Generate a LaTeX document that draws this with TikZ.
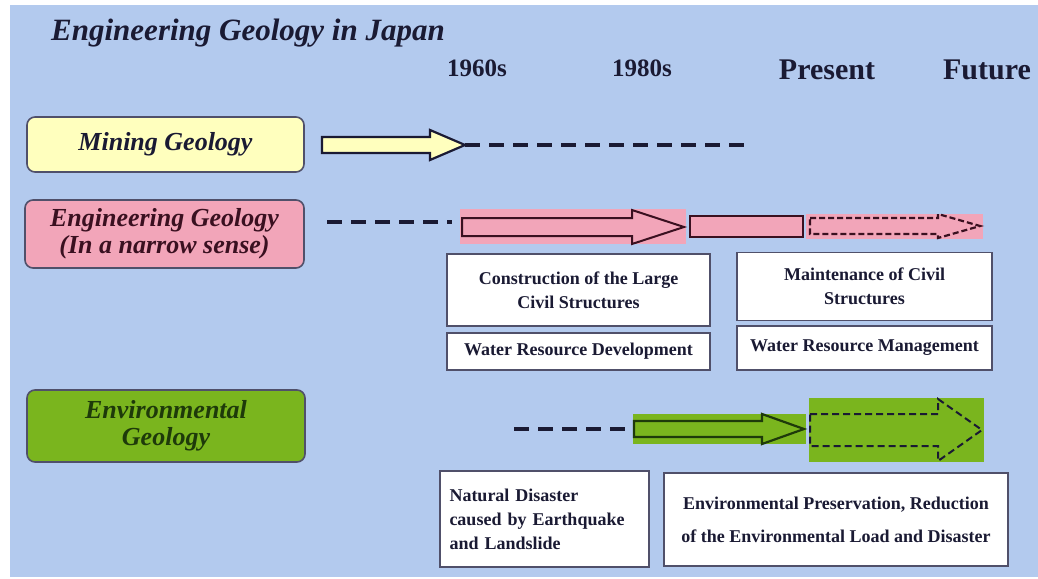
\documentclass[tikz,border=0pt]{standalone}
\usepackage{fontspec}
\setmainfont{Liberation Serif}
\definecolor{col_b3caee}{RGB}{179,202,238}
\definecolor{col_ffffbe}{RGB}{255,255,190}
\definecolor{col_f2a5b9}{RGB}{242,165,185}
\definecolor{col_7ab51e}{RGB}{122,181,30}
\definecolor{col_1a1a33}{RGB}{26,26,51}
\definecolor{col_50506a}{RGB}{80,80,106}
\definecolor{col_1e3a0a}{RGB}{30,58,10}
\definecolor{col_3a1020}{RGB}{58,16,32}
\newcommand{\tikzblockarrow}[8]{%
\filldraw[fill=#1,#2] (#3,#6-#7) -- (#4,#6-#7) -- (#4,#6-#8) -- (#5,#6) -- (#4,#6+#8) -- (#4,#6+#7) -- (#3,#6+#7) -- cycle;
}
\tikzset{
  catbox/.style={draw=col_50506a, line width=1.6pt, rounded corners=8pt, align=center,
    font=\fontsize{26}{27}\selectfont\bfseries\itshape, text=col_1a1a33},
  notebox/.style={draw=col_50506a, line width=1.2pt, fill=white, align=center,
    font=\fontsize{18}{24}\selectfont\bfseries, text=col_1a1a33},
  yearlabel/.style={font=\fontsize{25}{26}\selectfont\bfseries, text=col_1a1a33},
  dashline/.style={col_1a1a33, line width=3.5pt, dash pattern=on 15pt off 9pt}
}

\begin{document}
\begin{tikzpicture}[x=1pt,y=-1pt]
\useasboundingbox (0,0) rectangle (1038,578);
\fill[white] (0,0) rectangle (1038,578);
\fill[col_b3caee] (10,5) rectangle (1038,577);     %% slide background
\node (title) [font=\fontsize{31}{33}\selectfont\bfseries\itshape, text=col_1a1a33] at (248,33) {Engineering Geology in Japan};
\node (y1960) [yearlabel] at (477,68) {1960s};
\node (y1980) [yearlabel] at (642,68) {1980s};
\node (present) [yearlabel, font=\fontsize{30}{31}\selectfont\bfseries] at (827,70) {Present};
\node (future) [yearlabel, font=\fontsize{30}{31}\selectfont\bfseries] at (987,70) {Future};
%% categories
\node (mining) [catbox, fill=col_ffffbe, minimum width=277pt, minimum height=55pt] at (165.5,144.5) {Mining Geology};
\node (engineering) [catbox, fill=col_f2a5b9, text=col_3a1020, minimum width=279pt, minimum height=68pt] at (164.5,234) {Engineering Geology\\(In a narrow sense)};
\node (environmental) [catbox, fill=col_7ab51e, text=col_1e3a0a, minimum width=278pt, minimum height=72pt] at (166,426) {Environmental\\Geology};
%% mining row
\tikzblockarrow{col_ffffbe}{draw=col_1a1a33, line width=2.2pt}{322}{430}{465}{145}{8}{15}
\coordinate (mining-tip) at (465,145);
\coordinate (mining-end) at (750,145);
\draw[dashline] (mining-tip) -- (mining-end);
%% engineering row
\coordinate (eng-start) at (327,222);
\coordinate (eng-end) at (452,222);
\draw[dashline] (eng-start) -- (eng-end);
\fill[col_f2a5b9] (460,209) rectangle (686,244);
\tikzblockarrow{col_f2a5b9}{draw=col_3a1020, line width=2pt}{462}{632}{684}{227}{9}{17}
\filldraw[fill=col_f2a5b9, draw=col_3a1020, line width=2pt] (690,216) rectangle (803,237);
\fill[col_f2a5b9] (806,214) rectangle (983,239);
\tikzblockarrow{col_f2a5b9}{draw=col_3a1020, line width=2.2pt, dash pattern=on 6pt off 3pt}{810}{938}{980}{226}{8}{12}
%% environmental row
\coordinate (env-start) at (514,429);
\coordinate (env-end) at (632,429);
\draw[dashline] (env-start) -- (env-end);
\fill[col_7ab51e] (633,414) rectangle (806,444);
\tikzblockarrow{col_7ab51e}{draw=col_1e3a0a, line width=2.2pt}{634}{762}{804}{429}{8}{15}
\fill[col_7ab51e] (809,398) rectangle (984,462);
\tikzblockarrow{col_7ab51e}{draw=col_1a1a33, line width=2pt, dash pattern=on 7pt off 4pt}{810}{938}{982}{430}{16}{31}
%% notes
\node (construction) [notebox, minimum width=263pt, minimum height=72pt] at (578.5,290) {Construction of the Large\\Civil Structures};
\node (waterdev) [notebox, minimum width=263pt, minimum height=37pt] at (578.5,351.5) {Water Resource Development};
\node (maintenance) [notebox, minimum width=255pt, minimum height=68pt, anchor=north] at (864.5,252) {Maintenance of Civil\\Structures};
\node (watermgmt) [notebox, minimum width=255pt, minimum height=44pt] at (864.5,348) {Water Resource Management};
\node (disaster) [notebox, align=left, minimum width=209pt, minimum height=96pt, text width=190pt] at (544.5,519) {Natural Disaster\\caused by Earthquake\\and Landslide};
\node (preservation) [notebox, font=\fontsize{18}{33}\selectfont\bfseries, minimum width=344pt, minimum height=93pt] at (836,519.5) {Environmental Preservation, Reduction\\of the Environmental Load and Disaster};
\end{tikzpicture}
\end{document}
